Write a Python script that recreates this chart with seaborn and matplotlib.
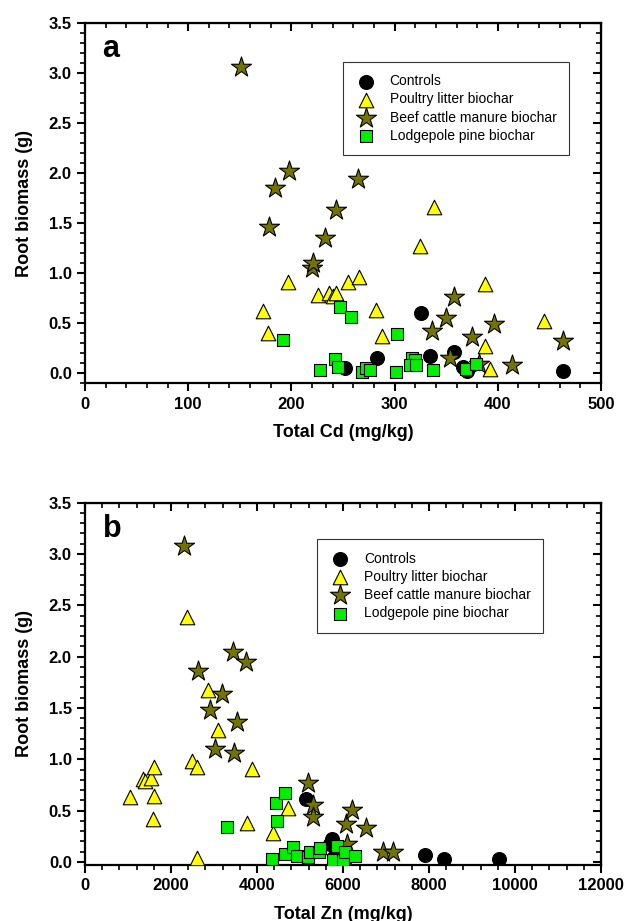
import numpy as np
import pandas as pd
import matplotlib
matplotlib.use("Agg")
import matplotlib.pyplot as plt
from matplotlib.ticker import MultipleLocator, FormatStrFormatter
import seaborn as sns

sns.set_style("ticks")
plt.rcParams['font.family'] = ['Liberation Sans', 'DejaVu Sans']
for k in ["text.color", "axes.labelcolor", "xtick.color", "ytick.color",
          "axes.edgecolor"]:
    plt.rcParams[k] = "black"

# ---------------- Panel a: Total Cd ----------------
cd_ctrl_x = [252, 283, 326, 334, 358, 366, 370, 463]
cd_ctrl_y = [0.05, 0.155, 0.60, 0.175, 0.21, 0.06, 0.02, 0.025]

cd_poul_x = [172.5, 177.6, 197, 225.5, 236, 240, 243, 254.5, 265.5, 282.3,
             287.8, 325, 338.5, 387.3, 387.3, 392.4, 445]
cd_poul_y = [0.627, 0.40, 0.91, 0.78, 0.806, 0.776, 0.806, 0.91, 0.966, 0.634,
             0.374, 1.275, 1.665, 0.89, 0.27, 0.04, 0.52]

cd_beef_x = [151, 178.3, 184.4, 197.7, 220, 221, 233, 243, 265, 336,
             349.8, 354, 358, 375, 382, 396, 414, 463.5]
cd_beef_y = [3.06, 1.465, 1.85, 2.02, 1.05, 1.10, 1.355, 1.63, 1.94, 0.427,
             0.55, 0.15, 0.76, 0.36, 0.09, 0.494, 0.085, 0.327]

cd_pine_x = [192, 228, 242, 245.5, 247.4, 258, 268, 272, 276, 301,
             302, 316.5, 320, 315, 320.4, 337.5, 369, 379]
cd_pine_y = [0.334, 0.028, 0.145, 0.062, 0.66, 0.567, 0.018, 0.048, 0.035, 0.015,
             0.394, 0.152, 0.135, 0.085, 0.085, 0.035, 0.042, 0.09]

# ---------------- Panel b: Total Zn ----------------
zn_ctrl_x = [5140, 5750, 5700, 5800, 6050, 7907, 8349, 9636]
zn_ctrl_y = [0.61, 0.22, 0.17, 0.05, 0.03, 0.066, 0.026, 0.033]

zn_poul_x = [1054, 1341, 1403, 1535, 1605, 1605, 1589, 2380, 2481, 2612,
             2597, 2868, 3085, 3767, 3891, 4380, 4720]
zn_poul_y = [0.637, 0.808, 0.784, 0.818, 0.92, 0.644, 0.415, 2.386, 0.98, 0.92,
             0.043, 1.674, 1.29, 0.376, 0.905, 0.278, 0.525]

zn_beef_x = [2295, 2620, 2905, 3023, 3178, 3434, 3465, 3527, 3744, 5194,
             5310, 5310, 6062, 6085, 6202, 6528, 6922, 7171]
zn_beef_y = [3.08, 1.86, 1.48, 1.105, 1.64, 2.043, 1.063, 1.366, 1.95, 0.77,
             0.556, 0.44, 0.37, 0.174, 0.507, 0.333, 0.092, 0.092]

zn_pine_x = [3300, 4341, 4442, 4457, 4651, 4651, 4845, 4922, 5194, 5233,
             5450, 5465, 5775, 5853, 5992, 6047, 6279]
zn_pine_y = [0.34, 0.033, 0.572, 0.40, 0.67, 0.075, 0.147, 0.056, 0.05, 0.098,
             0.098, 0.140, 0.017, 0.16, 0.017, 0.098, 0.056]

groups = ["Controls", "Poultry litter biochar", "Beef cattle manure biochar",
          "Lodgepole pine biochar"]
markers = {"Controls": "o", "Poultry litter biochar": "^",
           "Beef cattle manure biochar": "*", "Lodgepole pine biochar": "s"}
colors = {"Controls": "black", "Poultry litter biochar": "#FFFF00",
          "Beef cattle manure biochar": "#737300", "Lodgepole pine biochar": "#00F000"}
sizes = {"Controls": 100, "Poultry litter biochar": 110,
         "Beef cattle manure biochar": 230, "Lodgepole pine biochar": 85}


def build(xs, ys):
    frames = []
    for g, x, y in zip(groups, xs, ys):
        frames.append(pd.DataFrame({"x": x, "y": y, "group": g}))
    return pd.concat(frames, ignore_index=True)


df_a = build([cd_ctrl_x, cd_poul_x, cd_beef_x, cd_pine_x],
             [cd_ctrl_y, cd_poul_y, cd_beef_y, cd_pine_y])
df_b = build([zn_ctrl_x, zn_poul_x, zn_beef_x, zn_pine_x],
             [zn_ctrl_y, zn_poul_y, zn_beef_y, zn_pine_y])

fig = plt.figure(figsize=(6.32, 9.21), dpi=100)
ax_a = fig.add_axes([0.1345, 0.5838, 0.8165, 0.3915])
ax_b = fig.add_axes([0.1345, 0.0608, 0.8165, 0.3934])


def draw(ax, df, xlim, ylim, xmaj, xmin, xlabel, letter, leg_anchor):
    for i, g in enumerate(groups):
        sub = df[df.group == g]
        sns.scatterplot(data=sub, x="x", y="y", ax=ax, marker=markers[g],
                        color=colors[g], s=sizes[g], edgecolor="black",
                        linewidth=0.8, label=g, zorder=3 + i)
    ax.set_xlim(*xlim)
    ax.set_ylim(*ylim)
    ax.xaxis.set_major_locator(MultipleLocator(xmaj))
    ax.xaxis.set_minor_locator(MultipleLocator(xmin))
    ax.yaxis.set_major_locator(MultipleLocator(0.5))
    ax.yaxis.set_minor_locator(MultipleLocator(0.1))
    ax.tick_params(which="major", direction="out", length=6, width=1.5,
                   labelsize=12, colors="black")
    ax.tick_params(which="minor", direction="out", length=3.5, width=1.2,
                   colors="black")
    ax.yaxis.set_major_formatter(FormatStrFormatter("%.1f"))
    for lab in ax.get_xticklabels() + ax.get_yticklabels():
        lab.set_fontweight("bold")
    for sp in ax.spines.values():
        sp.set_linewidth(1.6)
        sp.set_color("black")
        sp.set_visible(True)
    # mirrored inward ticks on top and right
    top = ax.secondary_xaxis("top")
    top.xaxis.set_major_locator(MultipleLocator(xmaj))
    top.xaxis.set_minor_locator(MultipleLocator(xmin))
    top.tick_params(which="major", direction="in", length=6, width=1.5,
                    labeltop=False, colors="black")
    top.tick_params(which="minor", direction="in", length=3.5, width=1.2,
                    colors="black")
    right = ax.secondary_yaxis("right")
    right.yaxis.set_major_locator(MultipleLocator(0.5))
    right.yaxis.set_minor_locator(MultipleLocator(0.1))
    right.tick_params(which="major", direction="in", length=6, width=1.5,
                      labelright=False, colors="black")
    right.tick_params(which="minor", direction="in", length=3.5, width=1.2,
                      colors="black")

    ax.set_xlabel(xlabel, fontsize=13, fontweight="bold", labelpad=9)
    ax.set_ylabel("Root biomass (g)", fontsize=13, fontweight="bold",
                  labelpad=11)
    ax.text(0.034, 0.905, letter, transform=ax.transAxes, fontsize=22,
            fontweight="bold", va="baseline", ha="left")
    leg = ax.legend(loc="upper left", bbox_to_anchor=leg_anchor, frameon=True,
                    fancybox=False, edgecolor="black", fontsize=10,
                    borderpad=0.9, labelspacing=0.3, handletextpad=0.9,
                    borderaxespad=0, handlelength=1.6, markerscale=1.0)
    leg.get_frame().set_linewidth(0.8)


draw(ax_a, df_a, (0, 500), (-0.1, 3.5), 100, 20, "Total Cd (mg/kg)", "a",
     (0.499, 0.892))
draw(ax_b, df_b, (0, 12000), (-0.03, 3.5), 2000, 400, "Total Zn (mg/kg)", "b",
     (0.449, 0.899))

fig.savefig("out.png", dpi=100)
